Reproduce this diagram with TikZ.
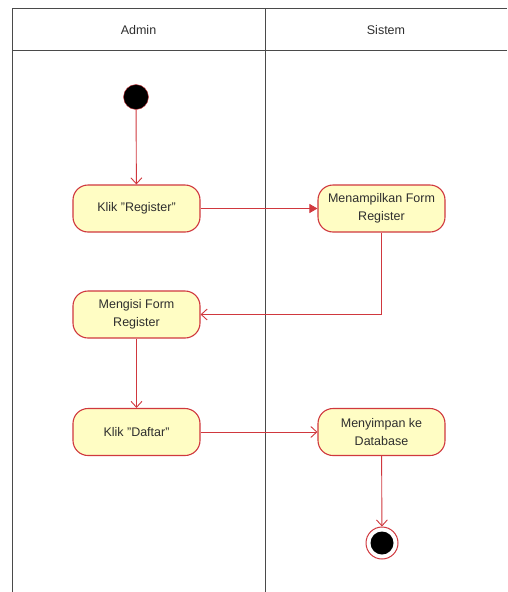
\documentclass[tikz,border=0pt]{standalone}
\usepackage{fontspec}
\setmainfont{Liberation Sans}
\usepackage{tikz}
\usetikzlibrary{arrows.meta,positioning}
\definecolor{umlred}{HTML}{D0383E}
\definecolor{umlfill}{HTML}{FFFDC4}
\definecolor{lanegray}{HTML}{4A4A4A}
\definecolor{txtgray}{HTML}{2E2E2E}

\begin{document}
\begin{tikzpicture}[x=1pt,y=-1pt,>={Straight Barb[length=6pt,width=11pt]},
  every node/.style={font=\fontsize{12.5}{18}\selectfont,text=txtgray},
  action/.style={draw=umlred,line width=1.1pt,fill=umlfill,rounded corners=15pt,minimum width=127pt,minimum height=47pt,align=center,inner sep=2pt},
  flow/.style={draw=umlred,line width=0.9pt,->},
  lane/.style={draw=lanegray,line width=1pt}]
\useasboundingbox (0,0) rectangle (507,592);
% swimlanes
\draw[lane] (12,592) -- (12,8) -- (507,8);
\draw[lane] (12,50) -- (507,50);
\draw[lane] (265,8) -- (265,592);
\node (admin) at (138.5,30) {Admin};
\node (sistem) at (386,30) {Sistem};
% actions
\node[circle,fill=black,draw=umlred,line width=0.4pt,minimum size=25pt,inner sep=0pt] (start) at (136,97) {};
\node[action] (klikreg) at (136.5,208.5) {Klik "Register"};
\node[action] (tampil) at (381.5,208.5) {Menampilkan Form\\Register};
\node[action] (isi) at (136.5,314.5) {Mengisi Form\\Register};
\node[action] (daftar) at (136.5,432) {Klik "Daftar"};
\node[action] (simpan) at (381.5,432) {Menyimpan ke\\Database};
\node[circle,draw=umlred,line width=1pt,fill=white,minimum size=32pt,inner sep=0pt] (end) at (382,543) {};
\node[circle,fill=black,minimum size=23pt,inner sep=0pt] (endin) at (end) {};
\draw[flow] (start) -- (klikreg);
\draw[flow,-{Triangle[length=8pt,width=9pt]}] (klikreg) -- (tampil);
\draw[flow] (tampil.south) |- (isi.east);
\draw[flow] (isi) -- (daftar);
\draw[flow] (daftar) -- (simpan);
\draw[flow] (simpan) -- (end);
\end{tikzpicture}
\end{document}
